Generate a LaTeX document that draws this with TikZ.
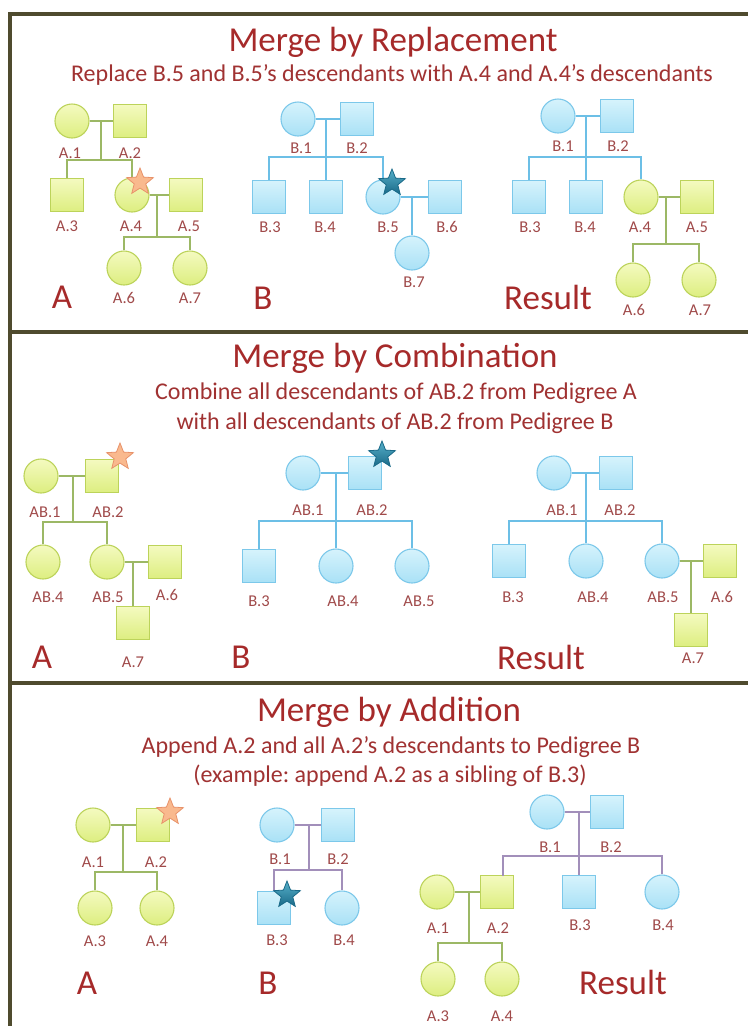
\documentclass[tikz,border=0pt]{standalone}
\usepackage{fontspec}
\setmainfont{Carlito}
\frenchspacing
\usetikzlibrary{shapes.geometric}
\definecolor{frame}{HTML}{4F4B2E}
\definecolor{titred}{HTML}{A62A2A}
\definecolor{subred}{HTML}{A03232}
\definecolor{labred}{HTML}{A04A4A}
\definecolor{gtop}{HTML}{F4FAC0}
\definecolor{gbot}{HTML}{DDEE80}
\definecolor{gdraw}{HTML}{BCD35A}
\definecolor{btop}{HTML}{D6F3FC}
\definecolor{bbot}{HTML}{A9E1F6}
\definecolor{bdraw}{HTML}{7CC8EA}
\definecolor{gline}{HTML}{9CB865}
\definecolor{bline}{HTML}{6CBFE6}
\definecolor{pline}{HTML}{A28FBA}
\definecolor{ostar}{HTML}{F9B98E}
\definecolor{ostard}{HTML}{E8926A}
\definecolor{tstar}{HTML}{2C9CBC}
\definecolor{tstard}{HTML}{1A6A88}
\tikzset{
  fem/.style={circle, minimum size=34pt, inner sep=0pt, line width=1.1pt},
  mal/.style={rectangle, minimum size=33pt, inner sep=0pt, line width=1.1pt},
  grn/.style={draw=gdraw, top color=gtop, bottom color=gbot},
  blu/.style={draw=bdraw, top color=btop, bottom color=bbot},
  gl/.style={draw=gline, line width=1.8pt},
  bl/.style={draw=bline, line width=1.8pt},
  pl/.style={draw=pline, line width=1.8pt},
  lab/.style={font=\fontsize{16.5}{16.5}\selectfont, text=labred, inner sep=0pt},
  big/.style={font=\fontsize{35}{35}\selectfont, text=titred, inner sep=0pt},
  titl/.style={font=\fontsize{35}{35}\selectfont, text=titred, inner sep=0pt},
  subt/.style={font=\fontsize{24}{24}\selectfont, text=subred, inner sep=0pt},
  ostr/.style={star, star points=5, star point ratio=2.3, minimum size=28pt, inner sep=0pt, fill=ostar, draw=ostard, line width=0.8pt},
  tstr/.style={star, star points=5, star point ratio=2.3, minimum size=28pt, inner sep=0pt, top color=tstar!80!white, bottom color=tstard, draw=tstard, line width=0.8pt},
  frm/.style={draw=frame, line width=3.5pt}
}
\begin{document}
\begin{tikzpicture}[x=1pt, y=-1pt]
\useasboundingbox (0,0) rectangle (748,1026);
\fill[white] (0,0) rectangle (748,1026);
% frame
\coordinate (f0) at (10,14); \coordinate (f1) at (748,14);
\coordinate (f2) at (10,1026);
\coordinate (d1a) at (10,332); \coordinate (d1b) at (748,332);
\coordinate (d2a) at (10,683); \coordinate (d2b) at (748,683);
\draw[frm] (f1) -- (f0) -- (f2);
\draw[frm] (d1a) -- (d1b);
\draw[frm] (d2a) -- (d2b);

%================ Section 1 ================
\node[titl] (t1) at (393,42) {Merge by Replacement};
\node[subt] (t1s) at (392,75) {Replace B.5 and B.5’s descendants with A.4 and A.4’s descendants};

% --- A
\node[fem,grn] (p1A1) at (72,121) {};
\node[mal,grn] (p1A2) at (130,121) {};
\node[mal,grn] (p1A3) at (67,195) {};
\node[fem,grn] (p1A4) at (132,195) {};
\node[mal,grn] (p1A5) at (186,195) {};
\node[fem,grn] (p1A6) at (124,268) {};
\node[fem,grn] (p1A7) at (190,268) {};
\coordinate (p1m1) at (101,121); \coordinate (p1j1) at (101,160);
\coordinate (p1m2) at (157,195); \coordinate (p1j2) at (157,237);
\draw[gl] (p1A1) -- (p1A2);
\draw[gl] (p1m1) -- (p1j1);
\draw[gl] (p1A3.north) |- (p1j1) -| (p1A4.north);
\draw[gl] (p1A4) -- (p1A5);
\draw[gl] (p1m2) -- (p1j2);
\draw[gl] (p1A6.north) |- (p1j2) -| (p1A7.north);
\node[ostr] (p1s) at (140,182) {};
\node[lab] (p1lA1) at (70,153) {A.1};
\node[lab] (p1lA2) at (130,153) {A.2};
\node[lab] (p1lA3) at (67,226) {A.3};
\node[lab] (p1lA4) at (131,226) {A.4};
\node[lab] (p1lA5) at (189,226) {A.5};
\node[lab] (p1lA6) at (124,298) {A.6};
\node[lab] (p1lA7) at (190,298) {A.7};
\node[big] (p1bA) at (62,297) {A};

% --- B
\node[fem,blu] (q1B1) at (298,119) {};
\node[mal,blu] (q1B2) at (357,119) {};
\node[mal,blu] (q1B3) at (269,197) {};
\node[mal,blu] (q1B4) at (326,197) {};
\node[fem,blu] (q1B5) at (383,197) {};
\node[mal,blu] (q1B6) at (445,197) {};
\node[fem,blu] (q1B7) at (412,253) {};
\coordinate (q1m1) at (326,119); \coordinate (q1j1) at (326,157);
\coordinate (q1m2) at (412,197);
\draw[bl] (q1B1) -- (q1B2);
\draw[bl] (q1m1) -- (q1B4.north);
\draw[bl] (q1B3.north) |- (q1j1) -| (q1B5.north);
\draw[bl] (q1B5) -- (q1B6);
\draw[bl] (q1m2) -- (q1B7.north);
\node[tstr] (q1s) at (392,183) {};
\node[lab] (q1lB1) at (301,148) {B.1};
\node[lab] (q1lB2) at (357,148) {B.2};
\node[lab] (q1lB3) at (270,227) {B.3};
\node[lab] (q1lB4) at (325,227) {B.4};
\node[lab] (q1lB5) at (388,227) {B.5};
\node[lab] (q1lB6) at (447,227) {B.6};
\node[lab] (q1lB7) at (414,282) {B.7};
\node[big] (q1bB) at (263,298) {B};

% --- Result
\node[fem,blu] (r1B1) at (558,116) {};
\node[mal,blu] (r1B2) at (617,116) {};
\node[mal,blu] (r1B3) at (529,197) {};
\node[mal,blu] (r1B4) at (586,197) {};
\node[fem,grn] (r1A4) at (641,197) {};
\node[mal,grn] (r1A5) at (697,197) {};
\node[fem,grn] (r1A6) at (633,280) {};
\node[fem,grn] (r1A7) at (699,280) {};
\coordinate (r1m1) at (586,116); \coordinate (r1j1) at (586,157);
\coordinate (r1m2) at (666,197); \coordinate (r1j2) at (666,244);
\draw[bl] (r1B1) -- (r1B2);
\draw[bl] (r1m1) -- (r1B4.north);
\draw[bl] (r1B3.north) |- (r1j1) -| (r1A4.north);
\draw[gl] (r1A4) -- (r1A5);
\draw[gl] (r1m2) -- (r1j2);
\draw[gl] (r1A6.north) |- (r1j2) -| (r1A7.north);
\node[lab] (r1lB1) at (563,146) {B.1};
\node[lab] (r1lB2) at (618,146) {B.2};
\node[lab] (r1lB3) at (530,227) {B.3};
\node[lab] (r1lB4) at (585,227) {B.4};
\node[lab] (r1lA4) at (640,227) {A.4};
\node[lab] (r1lA5) at (697,227) {A.5};
\node[lab] (r1lA6) at (634,310) {A.6};
\node[lab] (r1lA7) at (700,310) {A.7};
\node[big] (r1res) at (548,297) {Result};

%================ Section 2 ================
\node[titl] (t2) at (395,358) {Merge by Combination};
\node[subt] (t2s1) at (396,393) {Combine all descendants of AB.2 from Pedigree A};
\node[subt] (t2s2) at (395,423) {with all descendants of AB.2 from Pedigree B};

% --- A
\node[fem,grn] (p2AB1) at (41,476) {};
\node[mal,grn] (p2AB2) at (102,476) {};
\node[fem,grn] (p2AB4) at (43,562) {};
\node[fem,grn] (p2AB5) at (107,562) {};
\node[mal,grn] (p2A6) at (165,562) {};
\node[mal,grn] (p2A7) at (133,623) {};
\coordinate (p2m1) at (73,476); \coordinate (p2j1) at (73,522);
\coordinate (p2m2) at (133,562);
\draw[gl] (p2AB1) -- (p2AB2);
\draw[gl] (p2m1) -- (p2j1);
\draw[gl] (p2AB4.north) |- (p2j1) -| (p2AB5.north);
\draw[gl] (p2AB5) -- (p2A6);
\draw[gl] (p2m2) -- (p2A7.north);
\node[ostr] (p2s) at (120,457) {};
\node[lab] (p2lAB1) at (45,512) {AB.1};
\node[lab] (p2lAB2) at (108,512) {AB.2};
\node[lab] (p2lAB4) at (48,597) {AB.4};
\node[lab] (p2lAB5) at (108,597) {AB.5};
\node[lab] (p2lA6) at (167,595) {A.6};
\node[lab] (p2lA7) at (133,662) {A.7};
\node[big] (p2bA) at (42,657) {A};

% --- B
\node[fem,blu] (q2AB1) at (303,473) {};
\node[mal,blu] (q2AB2) at (365,473) {};
\node[mal,blu] (q2B3) at (259,566) {};
\node[fem,blu] (q2AB4) at (336,566) {};
\node[fem,blu] (q2AB5) at (412,566) {};
\coordinate (q2m1) at (336,473); \coordinate (q2j1) at (336,521);
\draw[bl] (q2AB1) -- (q2AB2);
\draw[bl] (q2m1) -- (q2AB4.north);
\draw[bl] (q2B3.north) |- (q2j1) -| (q2AB5.north);
\node[tstr] (q2s) at (382,455) {};
\node[lab] (q2lAB1) at (308,510) {AB.1};
\node[lab] (q2lAB2) at (372,510) {AB.2};
\node[lab] (q2lB3) at (259,601) {B.3};
\node[lab] (q2lAB4) at (343,601) {AB.4};
\node[lab] (q2lAB5) at (419,601) {AB.5};
\node[big] (q2bB) at (241,657) {B};

% --- Result
\node[fem,blu] (r2AB1) at (554,473) {};
\node[mal,blu] (r2AB2) at (616,473) {};
\node[mal,blu] (r2B3) at (509,561) {};
\node[fem,blu] (r2AB4) at (586,561) {};
\node[fem,blu] (r2AB5) at (662,561) {};
\node[mal,grn] (r2A6) at (720,561) {};
\node[mal,grn] (r2A7) at (691,630) {};
\coordinate (r2m1) at (586,473); \coordinate (r2j1) at (586,521);
\coordinate (r2m2) at (691,561);
\draw[bl] (r2AB1) -- (r2AB2);
\draw[bl] (r2m1) -- (r2AB4.north);
\draw[bl] (r2B3.north) |- (r2j1) -| (r2AB5.north);
\draw[gl] (r2AB5) -- (r2A6);
\draw[gl] (r2m2) -- (r2A7.north);
\node[lab] (r2lAB1) at (562,510) {AB.1};
\node[lab] (r2lAB2) at (620,510) {AB.2};
\node[lab] (r2lB3) at (513,597) {B.3};
\node[lab] (r2lAB4) at (593,597) {AB.4};
\node[lab] (r2lAB5) at (663,597) {AB.5};
\node[lab] (r2lA6) at (722,597) {A.6};
\node[lab] (r2lA7) at (693,658) {A.7};
\node[big] (r2res) at (541,657) {Result};

%================ Section 3 ================
\node[titl] (t3) at (389,712) {Merge by Addition};
\node[subt] (t3s1) at (391,747) {Append A.2 and all A.2’s descendants to Pedigree B};
\node[subt] (t3s2) at (390,776) {(example: append A.2 as a sibling of B.3)};

% --- A
\node[fem,grn] (p3A1) at (93,825) {};
\node[mal,grn] (p3A2) at (153,825) {};
\node[fem,grn] (p3A3) at (95,908) {};
\node[fem,grn] (p3A4) at (157,908) {};
\coordinate (p3m1) at (123,825); \coordinate (p3j1) at (123,872);
\draw[gl] (p3A1) -- (p3A2);
\draw[gl] (p3m1) -- (p3j1);
\draw[gl] (p3A3.north) |- (p3j1) -| (p3A4.north);
\node[ostr] (p3s) at (170,812) {};
\node[lab] (p3lA1) at (93,862) {A.1};
\node[lab] (p3lA2) at (156,862) {A.2};
\node[lab] (p3lA3) at (95,941) {A.3};
\node[lab] (p3lA4) at (157,941) {A.4};
\node[big] (p3bA) at (87,983) {A};

% --- B
\node[fem,blu] (q3B1) at (277,825) {};
\node[mal,blu] (q3B2) at (338,825) {};
\node[mal,blu] (q3B3) at (274,908) {};
\node[fem,blu] (q3B4) at (342,908) {};
\coordinate (q3m1) at (309,825); \coordinate (q3j1) at (309,870);
\draw[pl] (q3B1) -- (q3B2);
\draw[pl] (q3m1) -- (q3j1);
\draw[pl] (q3B3.north) |- (q3j1) -| (q3B4.north);
\node[tstr] (q3s) at (287,895) {};
\node[lab] (q3lB1) at (280,859) {B.1};
\node[lab] (q3lB2) at (338,859) {B.2};
\node[lab] (q3lB3) at (277,940) {B.3};
\node[lab] (q3lB4) at (344,940) {B.4};
\node[big] (q3bB) at (268,983) {B};

% --- Result
\node[fem,blu] (r3B1) at (547,812) {};
\node[mal,blu] (r3B2) at (607,812) {};
\node[fem,grn] (r3A1) at (437,892) {};
\node[mal,grn] (r3A2) at (497,892) {};
\node[mal,blu] (r3B3) at (579,892) {};
\node[fem,blu] (r3B4) at (662,892) {};
\node[fem,grn] (r3A3) at (438,979) {};
\node[fem,grn] (r3A4) at (502,979) {};
\coordinate (r3m1) at (579,812); \coordinate (r3j1) at (579,856);
\coordinate (r3d) at (503,875.5);
\coordinate (r3m2) at (469,892); \coordinate (r3j2) at (469,943);
\draw[pl] (r3B1) -- (r3B2);
\draw[pl] (r3m1) -- (r3B3.north);
\draw[pl] (r3d) |- (r3j1) -| (r3B4.north);
\draw[gl] (r3A1) -- (r3A2);
\draw[gl] (r3m2) -- (r3j2);
\draw[gl] (r3A3.north) |- (r3j2) -| (r3A4.north);
\node[lab] (r3lB1) at (550,847) {B.1};
\node[lab] (r3lB2) at (611,847) {B.2};
\node[lab] (r3lA1) at (438,928) {A.1};
\node[lab] (r3lA2) at (498,928) {A.2};
\node[lab] (r3lB3) at (580,925) {B.3};
\node[lab] (r3lB4) at (663,925) {B.4};
\node[lab] (r3lA3) at (438,1016) {A.3};
\node[lab] (r3lA4) at (502,1016) {A.4};
\node[big] (r3res) at (623,982) {Result};
\end{tikzpicture}
\end{document}
